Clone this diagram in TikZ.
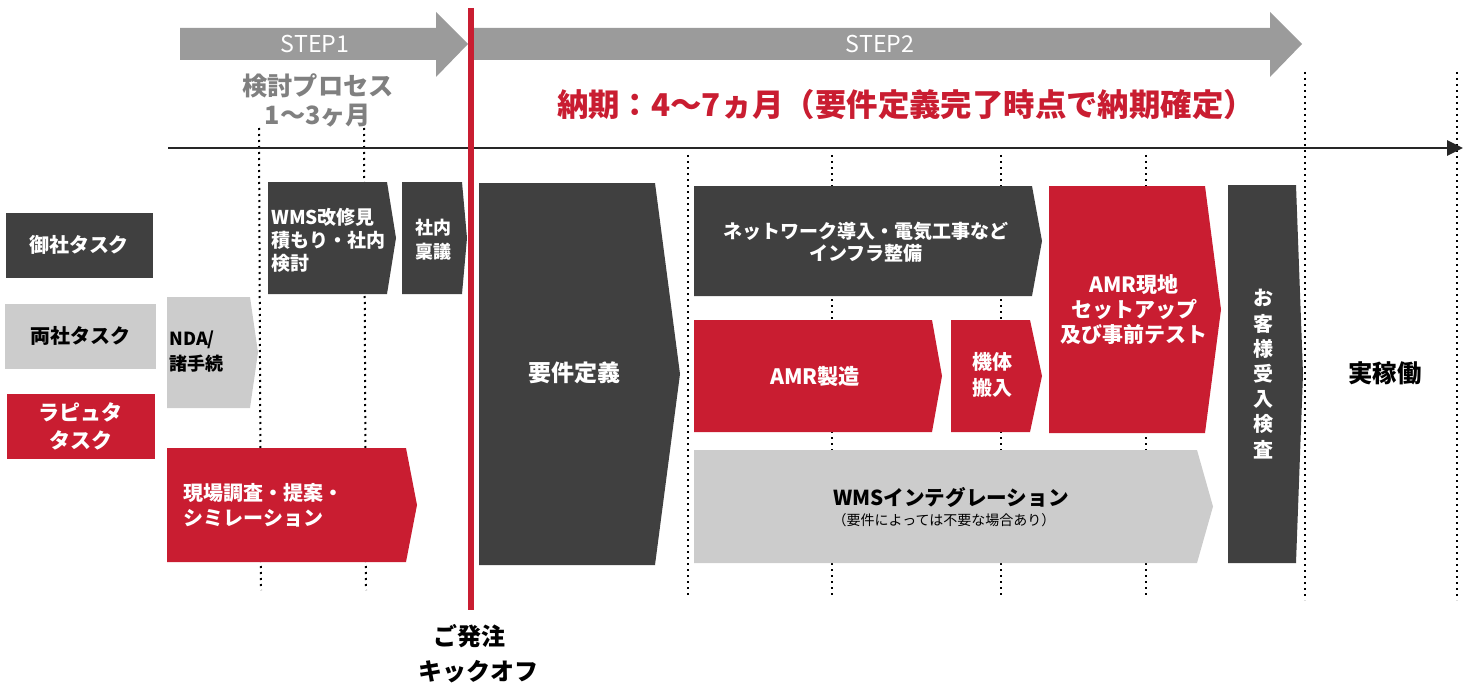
\documentclass[tikz,border=0pt]{standalone}
\usepackage{fontspec}
\setmainfont{Noto Sans CJK JP}
\usetikzlibrary{arrows.meta}
\definecolor{dk}{HTML}{404040}
\definecolor{lg}{HTML}{CCCCCC}
\definecolor{rd}{HTML}{C91D31}
\definecolor{ag}{HTML}{9B9B9B}
\definecolor{tg}{HTML}{808080}
\newcommand\fz[2]{\fontsize{#1}{#2}\selectfont}
% name, fill, left, top, right, bottom, tip
\newcommand\chev[7]{%
  \fill[#2] (#3,#4) -- (#5,#4) -- (#7,{(#4+#6)/2}) -- (#5,#6) -- (#3,#6) -- cycle;
  \coordinate (#1) at ({(#3+#5)/2},{(#4+#6)/2});
}
\tikzset{
  lbl/.style={inner sep=0pt, align=center},
  lbll/.style={inner sep=0pt, align=left, anchor=west},
  wb/.style={text=white, font=\bfseries\fz{10}{12}},
  guide/.style={line width=1pt, dash pattern=on 1pt off 2pt, black},
}
\begin{document}
\begin{tikzpicture}[x=0.5pt,y=-0.5pt]
\useasboundingbox (0,0) rectangle (1467,690);
% guide lines
\draw[guide] (259,128) -- (261,590);
\draw[guide] (364,128) -- (366,590);
\draw[guide] (688,155) -- (688,598);
\draw[guide] (832,155) -- (832,598);
\draw[guide] (1001,155) -- (1001,598);
\draw[guide] (1146,155) -- (1146,598);
\draw[guide] (1305,72) -- (1305,600);
\draw[guide] (1457,72) -- (1457,600);
% STEP arrows
\fill[ag] (180,28) -- (436,28) -- (436,12) -- (468,44) -- (436,77) -- (436,60) -- (180,60) -- cycle;
\fill[ag] (470,28) -- (1270,28) -- (1270,12) -- (1302,44) -- (1270,77) -- (1270,60) -- (470,60) -- cycle;
\node[lbl, text=white, font=\fz{11.6}{13}] (s1) at (315,44) {STEP1};
\node[lbl, text=white, font=\fz{11.6}{13}] (s2) at (880,44) {STEP2};
\node[lbl, text=tg, font=\bfseries\fz{12.6}{14.5}] (kt) at (318,100) {検討プロセス\\1〜3ヶ月};
\node[lbl, text=rd, font=\bfseries\fz{15.7}{18}] (ttl) at (906,105) {納期：4〜7ヵ月（要件定義完了時点で納期確定）};
% timeline
\coordinate (t0) at (168,148);
\coordinate (t1) at (1463,148);
\draw[line width=1.4pt, black!85, -{Triangle[length=8pt,width=7.5pt]}] (t0) -- (t1);
% legend
\fill[dk] (6,213) rectangle (153,278);
\node[lbl, wb] (l1) at (79,245) {御社タスク};
\fill[lg] (5,304) rectangle (156,369);
\node[lbl, font=\bfseries\fz{10}{12}] (l2) at (81,336) {両社タスク};
\fill[rd] (7,394) rectangle (155,459);
\node[lbl, wb, font=\bfseries\fz{10.5}{14}] (l3) at (81,426) {ラピュタ\\タスク};
% tasks
\chev{nda}{lg}{167}{297}{250}{408}{258}
\node[lbll, font=\bfseries\fz{9}{12.5}] at (169,352) {NDA/\\諸手続};
\chev{wms}{dk}{268}{182}{387}{294}{396}
\node[lbll, wb, font=\bfseries\fz{9.5}{11.5}] at (271,240) {WMS改修見\\積もり・社内\\検討};
\chev{rin}{dk}{402}{182}{462}{294}{467}
\node[lbl, wb, font=\bfseries\fz{9}{12}] at (433,240) {社内\\稟議};
\chev{gen}{rd}{167}{448}{406}{562}{417}
\node[lbll, wb, font=\bfseries\fz{10}{12.5}] at (183,505) {現場調査・提案・\\シミレーション};
\chev{yok}{dk}{479}{183}{655}{565}{680}
\node[lbl, wb, font=\bfseries\fz{11.5}{14}] at (574,373) {要件定義};
\chev{net}{dk}{694}{186}{1032}{296}{1042}
\node[lbl, wb, font=\bfseries\fz{9.5}{11}] at (866,242) {ネットワーク導入・電気工事など\\インフラ整備};
\chev{amr}{rd}{694}{320}{932}{432}{942}
\node[lbl, wb, font=\bfseries\fz{10.6}{12}] at (815,376) {AMR製造};
\chev{kit}{rd}{951}{320}{1030}{432}{1042}
\node[lbl, wb, font=\bfseries\fz{10}{13}] at (992,375) {機体\\搬入};
\chev{set}{rd}{1049}{186}{1205}{433}{1221}
\node[lbl, wb, font=\bfseries\fz{10.5}{12.5}] at (1134,310) {AMR現地\\セットアップ\\及び事前テスト};
\chev{kyk}{dk}{1228}{185}{1296}{563}{1303}
\node[lbl, wb, font=\bfseries\fz{10}{12.6}] at (1263,374) {お\\客\\様\\受\\入\\検\\査};
\chev{wint}{lg}{694}{450}{1197}{563}{1213}
\node[lbl, font=\bfseries\fz{10.3}{12}] at (951,497) {WMSインテグレーション};
\node[lbl, font=\fz{7}{8.5}] at (944,520) {（要件によっては不要な場合あり）};
\node[lbl, font=\bfseries\fz{12.2}{14}] (jk) at (1385,373) {実稼働};
% kickoff line
\draw[rd, line width=2.6pt] (471,8) -- (471,610);
\node[lbl, font=\bfseries\fz{12}{14}] (ko1) at (469,636) {ご発注};
\node[lbl, font=\bfseries\fz{12}{14}] (ko2) at (478,672) {キックオフ};
\end{tikzpicture}
\end{document}
